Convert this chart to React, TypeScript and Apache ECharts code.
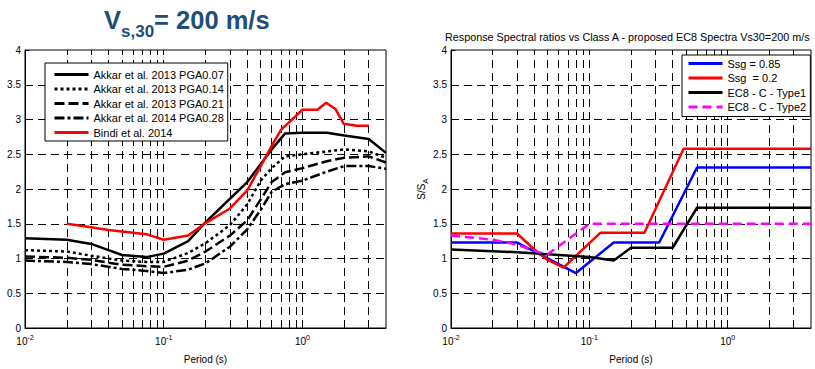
import React, { useEffect, useRef } from 'react';
import * as echarts from 'echarts';

const FONT = "'Liberation Sans', Arial, Helvetica, sans-serif";

// ---------- Left panel data ----------
const periodsAkkar = [0.01, 0.02, 0.03, 0.04, 0.05, 0.075, 0.1, 0.15, 0.2, 0.3, 0.4, 0.5, 0.6, 0.75, 1.0, 1.5, 2.0, 3.0, 4.0];
const akkar2013PGA007 = [1.29, 1.27, 1.21, 1.12, 1.05, 1.02, 1.07, 1.25, 1.52, 1.86, 2.10, 2.36, 2.57, 2.80, 2.81, 2.81, 2.77, 2.72, 2.52];
const akkar2013PGA014 = [1.12, 1.10, 1.04, 1.00, 0.97, 0.95, 0.95, 1.08, 1.22, 1.48, 1.78, 2.12, 2.30, 2.47, 2.50, 2.54, 2.57, 2.54, 2.45];
const akkar2013PGA021 = [1.03, 1.01, 0.98, 0.94, 0.91, 0.89, 0.88, 0.97, 1.10, 1.33, 1.55, 1.85, 2.10, 2.24, 2.30, 2.40, 2.45, 2.47, 2.38];
const akkar2014PGA028 = [0.97, 0.95, 0.92, 0.88, 0.85, 0.82, 0.79, 0.84, 0.93, 1.17, 1.42, 1.70, 1.96, 2.07, 2.12, 2.25, 2.33, 2.33, 2.29];
const periodsBindi = [0.02, 0.03, 0.04, 0.05, 0.075, 0.1, 0.15, 0.2, 0.3, 0.4, 0.5, 0.6, 0.7, 1.0, 1.28, 1.48, 1.73, 1.98, 2.47, 3.0];
const bindi2014 = [1.50, 1.45, 1.41, 1.39, 1.35, 1.27, 1.33, 1.51, 1.72, 1.98, 2.33, 2.62, 2.85, 3.14, 3.14, 3.24, 3.15, 2.94, 2.91, 2.91];

// ---------- Right panel data ----------
const periodsSsg085 = [0.01, 0.03, 0.08, 0.15, 0.32, 0.6, 4.0];
const ssg085 = [1.23, 1.23, 0.79, 1.23, 1.23, 2.31, 2.31];
const periodsSsg02 = [0.01, 0.03, 0.04, 0.05, 0.065, 0.12, 0.25, 0.48, 4.0];
const ssg02 = [1.36, 1.36, 1.13, 0.98, 0.87, 1.37, 1.37, 2.58, 2.58];
const periodsType1 = [0.01, 0.03, 0.05, 0.1, 0.15, 0.2, 0.4, 0.6, 4.0];
const ec8Type1 = [1.13, 1.09, 1.06, 1.02, 0.97, 1.155, 1.155, 1.73, 1.73];
const periodsType2 = [0.01, 0.02, 0.03, 0.04, 0.05, 0.1, 4.0];
const ec8Type2 = [1.33, 1.27, 1.20, 1.11, 1.06, 1.50, 1.50];

// grid lines positions (log decades subdivisions)
const periodGridLines = [0.02, 0.03, 0.04, 0.05, 0.06, 0.07, 0.08, 0.09, 0.1, 0.2, 0.3, 0.4, 0.5, 0.6, 0.7, 0.8, 0.9, 1, 2, 3];

const leftNames = ['Akkar et al. 2013 PGA0.07', 'Akkar et al. 2013 PGA0.14', 'Akkar et al. 2013 PGA0.21', 'Akkar et al. 2014 PGA0.28', 'Bindi et al. 2014'];
const rightNames = ['Ssg = 0.85', 'Ssg  = 0.2', 'EC8 - C - Type1', 'EC8 - C - Type2'];

const zip = (xs: number[], ys: number[]) => xs.map((x, i) => [x, ys[i]]);

const GRID_DASH = [8, 5];

function xAxisCfg(gridIndex: number) {
  return {
    type: 'log',
    logBase: 10,
    gridIndex,
    min: 0.01,
    max: 4,
    name: 'Period (s)',
    nameLocation: 'middle',
    nameGap: 26,
    nameTextStyle: { fontFamily: FONT, fontSize: 10, color: '#000' },
    axisLine: { show: true, onZero: false, lineStyle: { color: '#000', width: 1 } },
    axisTick: { show: false },
    splitLine: { show: false },
    minorTick: { show: false },
    axisLabel: {
      fontFamily: FONT,
      fontSize: 10,
      color: '#000',
      margin: 6,
      showMaxLabel: false,
      formatter: (v: number) => {
        const e = Math.log10(v);
        if (Math.abs(e - Math.round(e)) < 1e-6) return '10{sup|' + Math.round(e) + '}';
        return '';
      },
      rich: {
        sup: { fontFamily: FONT, fontSize: 7, color: '#000', padding: [0, 0, 7, 0] },
      },
    },
  };
}

function yAxisCfg(gridIndex: number, withName: boolean) {
  const cfg: any = {
    type: 'value',
    gridIndex,
    min: 0,
    max: 4,
    interval: 0.5,
    axisLine: { show: true, lineStyle: { color: '#000', width: 1 } },
    axisTick: { show: true, inside: true, length: 4, lineStyle: { color: '#000' } },
    axisLabel: { fontFamily: FONT, fontSize: 10, color: '#000', margin: 4 },
    splitLine: {
      show: true,
      showMinLine: false,
      showMaxLine: false,
      lineStyle: { color: '#000', width: 1, type: GRID_DASH },
    },
  };
  if (withName) {
    cfg.name = '{n|S/S}{a|A}';
    cfg.nameLocation = 'middle';
    cfg.nameGap = 22;
    cfg.nameRotate = 90;
    cfg.nameTextStyle = {
      fontFamily: FONT,
      color: '#000',
      rich: {
        n: { fontFamily: FONT, fontSize: 10, color: '#000', verticalAlign: 'bottom', padding: [0, 0, 3, 0] },
        a: { fontFamily: FONT, fontSize: 8, color: '#000', verticalAlign: 'bottom' },
      },
    };
  }
  return cfg;
}

function gridLinesSeries(i: number) {
  return {
    type: 'line',
    xAxisIndex: i,
    yAxisIndex: i,
    data: [],
    silent: true,
    z: 1,
    markLine: {
      z: 1,
      symbol: ['none', 'none'],
      silent: true,
      animation: false,
      label: { show: false },
      lineStyle: { color: '#000', width: 1, type: GRID_DASH },
      data: periodGridLines.map((v) => ({ xAxis: v })),
    },
  };
}

function lineSeries(name: string, i: number, data: number[][], color: string, type: any, width: number) {
  return {
    name,
    type: 'line',
    xAxisIndex: i,
    yAxisIndex: i,
    data,
    symbol: 'none',
    showSymbol: false,
    smooth: false,
    z: 3,
    lineStyle: { color, width, type },
    itemStyle: { color },
  };
}

function legendCfg(names: string[], left: number, top: number, padding: number[]) {
  return {
    data: names,
    left,
    top,
    z: 10,
    orient: 'vertical',
    borderColor: '#000',
    borderWidth: 1,
    backgroundColor: '#fff',
    padding,
    itemGap: 3.5,
    itemWidth: 34,
    itemHeight: 12,
    itemTextGap: 3,
    selectedMode: false,
    itemStyle: { opacity: 0, borderWidth: 0 },
    lineStyle: { width: 3 },
    textStyle: { fontFamily: FONT, fontSize: 11, color: '#000' },
  };
}

export default function App() {
  const ref = useRef<HTMLDivElement>(null);
  useEffect(() => {
    if (!ref.current) return;
    const chart = echarts.init(ref.current, null, { renderer: 'svg' });
    const option: any = {
      animation: false,
      backgroundColor: '#fff',
      title: [
        {
          text: '{v|V}{s|s,30}{v|= 200 m/s}',
          left: 104,
          top: 7,
          padding: 0,
          textStyle: {
            rich: {
              v: { fontFamily: FONT, fontSize: 25.5, fontWeight: 'bold', color: '#1F4E79', verticalAlign: 'bottom', padding: [0, 0, 7, 0] },
              s: { fontFamily: FONT, fontSize: 17, fontWeight: 'bold', color: '#1F4E79', verticalAlign: 'bottom' },
            },
          },
        },
        {
          text: 'Response Spectral ratios vs Class A - proposed EC8 Spectra Vs30=200 m/s',
          left: 445,
          top: 31,
          padding: 0,
          textStyle: { fontFamily: FONT, fontSize: 10.8, fontWeight: 'normal', color: '#000' },
        },
      ],
      grid: [
        { left: 25, top: 50, width: 361, height: 284, show: true, borderColor: '#000', borderWidth: 1, backgroundColor: '#fff' },
        { left: 451, top: 50, width: 360, height: 284, show: true, borderColor: '#000', borderWidth: 1, backgroundColor: '#fff' },
      ],
      xAxis: [xAxisCfg(0), xAxisCfg(1)],
      yAxis: [yAxisCfg(0, false), yAxisCfg(1, true)],
      legend: [legendCfg(leftNames, 45, 63, [6, 4, 3, 8]), legendCfg(rightNames, 682, 55, [3, 4, 4, 5])],
      series: [
        gridLinesSeries(0),
        gridLinesSeries(1),
        lineSeries(leftNames[0], 0, zip(periodsAkkar, akkar2013PGA007), '#000', 'solid', 2.5),
        lineSeries(leftNames[1], 0, zip(periodsAkkar, akkar2013PGA014), '#000', [3, 3], 2.5),
        lineSeries(leftNames[2], 0, zip(periodsAkkar, akkar2013PGA021), '#000', [10, 4], 2.5),
        lineSeries(leftNames[3], 0, zip(periodsAkkar, akkar2014PGA028), '#000', [10, 3, 3, 3], 2.5),
        lineSeries(leftNames[4], 0, zip(periodsBindi, bindi2014), '#ff0000', 'solid', 2.5),
        lineSeries(rightNames[0], 1, zip(periodsSsg085, ssg085), '#0000ff', 'solid', 2.5),
        lineSeries(rightNames[1], 1, zip(periodsSsg02, ssg02), '#ff0000', 'solid', 2.5),
        lineSeries(rightNames[2], 1, zip(periodsType1, ec8Type1), '#000', 'solid', 2.5),
        lineSeries(rightNames[3], 1, zip(periodsType2, ec8Type2), '#ff00ff', [9, 5], 2.5),
      ],
    };
    chart.setOption(option);
    return () => chart.dispose();
  }, []);
  return <div ref={ref} style={{ width: 815, height: 369, position: 'absolute', left: 0, top: 0 }} />;
}
